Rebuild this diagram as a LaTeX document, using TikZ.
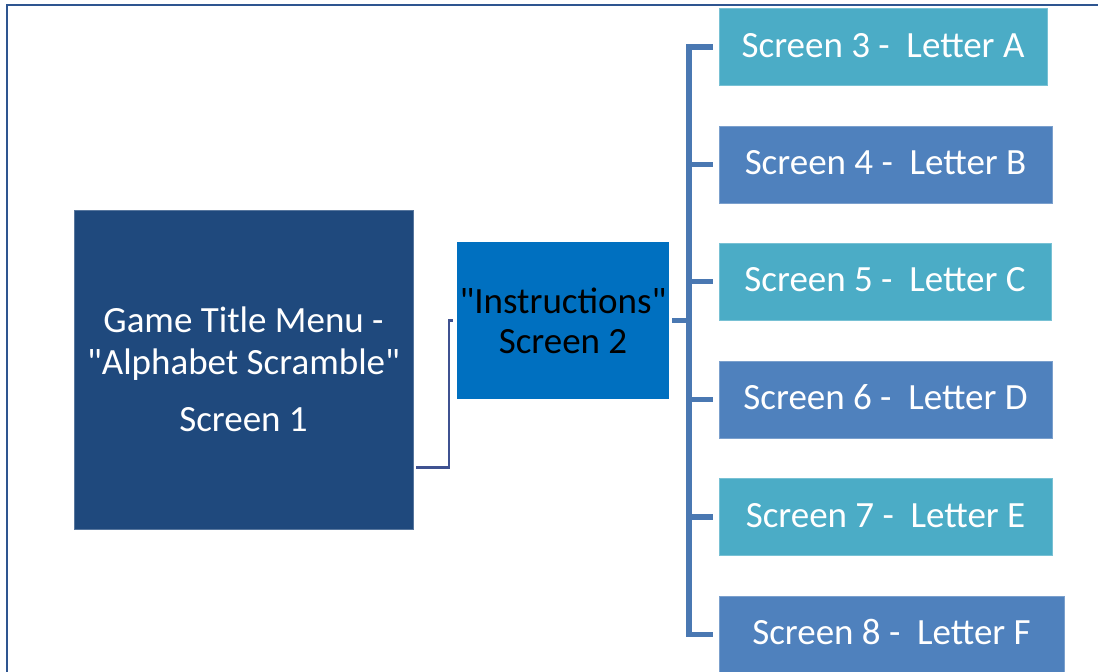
\documentclass[tikz,border=0pt]{standalone}
\usepackage{fontspec}
\setmainfont{Carlito}[Ligatures=TeXOff]
\definecolor{titleblue}{HTML}{1F497D}
\definecolor{instrblue}{HTML}{0070C0}
\definecolor{tealbox}{HTML}{4BACC6}
\definecolor{bluebox}{HTML}{4F81BD}
\definecolor{spineblue}{HTML}{4A78B2}
\definecolor{linkblue}{HTML}{3F5291}
\definecolor{frameblue}{HTML}{2E5590}
\begin{document}
\begin{tikzpicture}[x=1pt,y=-1pt,
  box/.style={rectangle, inner sep=0pt, font=\fontsize{37}{42}\selectfont},
  letterbox/.style={box, text=white, minimum height=77pt, text height=20pt,
    text depth=0pt, fill=#1, draw=#1!75!white, line width=0.8pt},
  spine/.style={draw=spineblue, line width=5.5pt, line join=miter},
  link/.style={draw=linkblue, line width=2.5pt, line join=miter},
  frame/.style={draw=frameblue, line width=2pt}
]
\useasboundingbox (0,0) rectangle (1098,672);
\clip (0,0) rectangle (1098,672);

% outer frame
\draw[frame] (6.8,5.3) rectangle (1120,700);

% main screens
\node[box, fill=titleblue, draw=titleblue!75!white, line width=0.8pt, text=white,
  minimum width=339pt, minimum height=319pt, align=center]
  (b1) at (243.5,369.5) {Game Title Menu -\\"Alphabet Scramble"\\[15pt]Screen 1};
\node[box, fill=instrblue, text=black, minimum width=212pt, minimum height=157pt,
  align=center, font=\fontsize{37}{40}\selectfont]
  (b2) at (563,320.5) {"Instructions"\\Screen 2};

% letter screens
\node[letterbox=tealbox, minimum width=328pt] (b3) at (883,47) {Screen 3 -\ \ Letter A};
\node[letterbox=bluebox, minimum width=333pt] (b4) at (885.5,164.5) {Screen 4 -\ \ Letter B};
\node[letterbox=tealbox, minimum width=332pt] (b5) at (885,281.5) {Screen 5 -\ \ Letter C};
\node[letterbox=bluebox, minimum width=333pt] (b6) at (885.5,399.5) {Screen 6 -\ \ Letter D};
\node[letterbox=tealbox, minimum width=333pt] (b7) at (885.5,517) {Screen 7 -\ \ Letter E};
\node[letterbox=bluebox, minimum width=345pt] (b8) at (891.5,634.5) {Screen 8 -\ \ Letter F};

% connector from the title screen to the instructions
\coordinate (lk) at (449,400);
\draw[link] ([xshift=3pt,yshift=62pt]b1.south east) -| (lk) |- ([xshift=-4pt]b2.west);

% tree from the instructions to the letter screens
\coordinate (sp) at (689,340);
\draw[spine, shorten <=6pt, shorten >=6pt] (b3.west) -| (sp) |- (b8.west);
\draw[spine, shorten <=3pt] (b2.east) -- (b2.east -| sp);
\foreach \b in {b4,b5,b6,b7}
  \draw[spine, shorten >=6pt] (\b.west -| sp) -- (\b.west);
\end{tikzpicture}
\end{document}
